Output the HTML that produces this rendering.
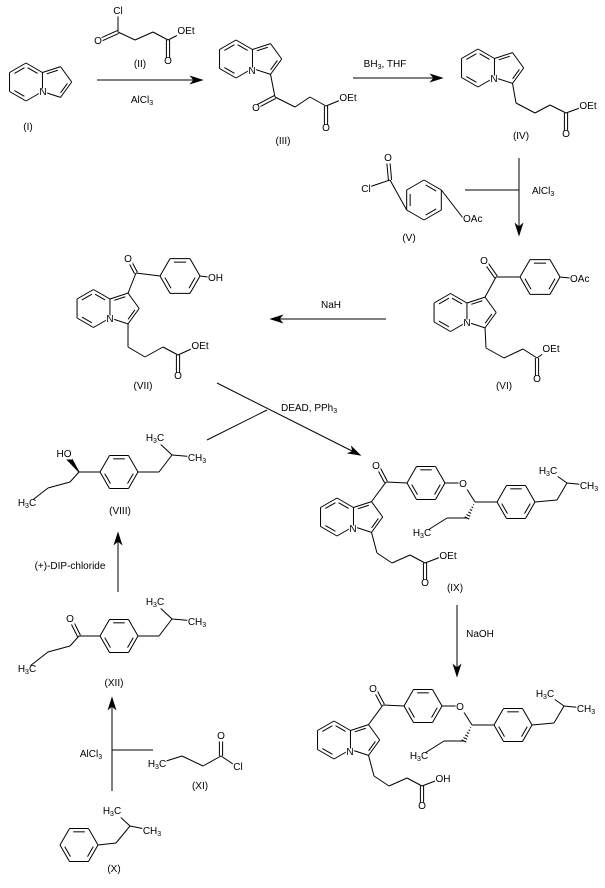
<!DOCTYPE html>
<html><head><meta charset="utf-8"><style>
html,body{margin:0;padding:0;background:#fff;}
svg{display:block;}
text{font-family:"Liberation Sans",Arial,sans-serif;font-size:10px;fill:#000;}
line,polyline,polygon{stroke:#000;stroke-width:1;fill:none;}
polygon.h{fill:#000;}
rect.m{fill:#fff;stroke:none;}
</style></head><body>
<svg id="s" width="605" height="888" viewBox="0 0 605 888" xmlns="http://www.w3.org/2000/svg">
<g id="b"></g>
<g id="m"></g>
<g id="t" text-anchor="middle">
<text x="118" y="14">Cl</text><text x="98" y="44">O</text><text x="168" y="64">O</text><text x="186" y="34">OEt</text>
<text x="140" y="67" class="n">(II)</text>
<text x="28" y="130" class="n">(I)</text><text x="43" y="95">N</text>
<text x="142" y="103" class="n">AlCl<tspan dy="2" font-size="7">3</tspan></text>
<text x="252" y="74">N</text><text x="256" y="111">O</text><text x="326" y="131">O</text><text x="348" y="101">OEt</text>
<text x="283" y="144" class="n">(III)</text>
<text x="385" y="67" class="n">BH<tspan dy="2" font-size="7">3</tspan><tspan dy="-2">, THF</tspan></text>
<text x="494" y="82">N</text><text x="566" y="137">O</text><text x="588" y="109">OEt</text>
<text x="521" y="139" class="n">(IV)</text>
<text x="366" y="192">Cl</text><text x="388" y="161">O</text><text x="463" y="222" text-anchor="start">OAc</text>
<text x="409" y="241" class="n">(V)</text>
<text x="532" y="194" class="n" text-anchor="start">AlCl<tspan dy="2" font-size="7">3</tspan></text>
<text x="484" y="264">O</text><text x="570" y="282" text-anchor="start">OAc</text>
<text x="467" y="326">N</text><text x="537" y="382">O</text><text x="551" y="352">OEt</text>
<text x="504" y="389" class="n">(VI)</text>
<text x="331" y="308" class="n">NaH</text>
<text x="128" y="262">O</text><text x="208" y="281" text-anchor="start">OH</text>
<text x="110" y="322">N</text><text x="178" y="379">O</text><text x="200" y="349">OEt</text>
<text x="143" y="389" class="n">(VII)</text>
<text x="281" y="411" class="n" text-anchor="start">DEAD, PPh<tspan dy="2" font-size="7">3</tspan></text>
<text x="64" y="457">HO</text><text x="155" y="441">H<tspan dy="2" font-size="7">3</tspan><tspan dy="-2">C</tspan></text>
<text x="197" y="461">CH<tspan dy="2" font-size="7">3</tspan></text>
<text x="27" y="506">H<tspan dy="2" font-size="7">3</tspan><tspan dy="-2">C</tspan></text>
<text x="120" y="514" class="n">(VIII)</text>
<text x="70" y="569" class="n">(+)-DIP-chloride</text>
<text x="70" y="622">O</text><text x="155" y="605">H<tspan dy="2" font-size="7">3</tspan><tspan dy="-2">C</tspan></text>
<text x="197" y="625">CH<tspan dy="2" font-size="7">3</tspan></text>
<text x="27" y="672">H<tspan dy="2" font-size="7">3</tspan><tspan dy="-2">C</tspan></text>
<text x="114" y="686" class="n">(XII)</text>
<text x="91" y="757" class="n">AlCl<tspan dy="2" font-size="7">3</tspan></text>
<text x="157" y="767">H<tspan dy="2" font-size="7">3</tspan><tspan dy="-2">C</tspan></text>
<text x="221" y="739">O</text><text x="238" y="770">Cl</text>
<text x="200" y="789" class="n">(XI)</text>
<text x="112" y="814">H<tspan dy="2" font-size="7">3</tspan><tspan dy="-2">C</tspan></text>
<text x="152" y="834">CH<tspan dy="2" font-size="7">3</tspan></text>
<text x="114" y="872" class="n">(X)</text>
<text x="376" y="469">O</text><text x="463" y="487">O</text><text x="353" y="532">N</text>
<text x="548" y="474">H<tspan dy="2" font-size="7">3</tspan><tspan dy="-2">C</tspan></text>
<text x="589" y="489">CH<tspan dy="2" font-size="7">3</tspan></text>
<text x="422" y="536">H<tspan dy="2" font-size="7">3</tspan><tspan dy="-2">C</tspan></text>
<text x="425" y="586">O</text><text x="448" y="559">OEt</text>
<text x="455" y="591" class="n">(IX)</text>
<text x="480" y="637" class="n">NaOH</text>
<text x="373" y="692">O</text><text x="460" y="710">O</text><text x="350" y="755">N</text>
<text x="545" y="697">H<tspan dy="2" font-size="7">3</tspan><tspan dy="-2">C</tspan></text>
<text x="586" y="712">CH<tspan dy="2" font-size="7">3</tspan></text>
<text x="419" y="759">H<tspan dy="2" font-size="7">3</tspan><tspan dy="-2">C</tspan></text>
<text x="422" y="809">O</text><text x="443" y="782">OH</text>
</g>
</svg>
<script>
var G=document.getElementById('b'),NS='http://www.w3.org/2000/svg';
function L(a,b,c,d){var e=document.createElementNS(NS,'line');e.setAttribute('x1',a);e.setAttribute('y1',b);e.setAttribute('x2',c);e.setAttribute('y2',d);G.appendChild(e);}
function P(pts){for(var i=0;i<pts.length-1;i++)L(pts[i][0],pts[i][1],pts[i+1][0],pts[i+1][1]);}
function D(a,b,c,d){var dx=c-a,dy=d-b,l=Math.hypot(dx,dy),nx=-dy/l*1.6,ny=dx/l*1.6;L(a+nx,b+ny,c+nx,d+ny);L(a-nx,b-ny,c-nx,d-ny);}
function inner(p,q,c){var f=0.8;var a=[c[0]+(p[0]-c[0])*f,c[1]+(p[1]-c[1])*f],b=[c[0]+(q[0]-c[0])*f,c[1]+(q[1]-c[1])*f];var m=0.12;L(a[0]+(b[0]-a[0])*m,a[1]+(b[1]-a[1])*m,b[0]-(b[0]-a[0])*m,b[1]-(b[1]-a[1])*m);}
function ring(cx,cy,r,flat){var v=[];for(var i=0;i<6;i++){var a=(flat?0:-90)+60*i;a*=Math.PI/180;v.push([cx+r*Math.cos(a),cy+r*Math.sin(a)]);}
 for(i=0;i<6;i++)L(v[i][0],v[i][1],v[(i+1)%6][0],v[(i+1)%6][1]);
 for(i=0;i<6;i+=2)inner(v[i],v[(i+1)%6],[cx,cy]);return v;}
function indol(cx,cy,r){var v=[];for(var i=0;i<6;i++){var a=(-90+60*i)*Math.PI/180;v.push([cx+r*Math.cos(a),cy+r*Math.sin(a)]);}
 for(i=0;i<6;i++)L(v[i][0],v[i][1],v[(i+1)%6][0],v[(i+1)%6][1]);
 var c=[cx,cy];inner(v[3],v[4],c);inner(v[5],v[0],c);
 var pc=[cx+0.866*r+0.688*r,cy],R=0.851*r;
 function pv(d){d*=Math.PI/180;return [pc[0]+R*Math.cos(d),pc[1]+R*Math.sin(d)];}
 var c1=pv(-72),c2=pv(0),c3=pv(72);
 P([v[1],c1,c2,c3,v[2]]);inner(v[1],c1,pc);inner(c2,c3,pc);inner(v[0],v[1],c);
 return {c1:c1,c3:c3};}
function A(a,b,c,d){L(a,b,c,d);var dx=c-a,dy=d-b,l=Math.hypot(dx,dy),ux=dx/l,uy=dy/l;
 var p=document.createElementNS(NS,'polygon');p.setAttribute('class','h');
 p.setAttribute('points',c+','+d+' '+(c-ux*11-uy*3.5)+','+(d-uy*11+ux*3.5)+' '+(c-ux*8)+','+(d-uy*8)+' '+(c-ux*11+uy*3.5)+','+(d-uy*11-ux*3.5));G.appendChild(p);}
function W(a,b,c,d){var dx=c-a,dy=d-b,l=Math.hypot(dx,dy),nx=-dy/l*2.5,ny=dx/l*2.5;var p=document.createElementNS(NS,'polygon');p.setAttribute('class','h');p.setAttribute('points',a+','+b+' '+(c+nx)+','+(d+ny)+' '+(c-nx)+','+(d-ny));G.appendChild(p);}
function H(a,b,c,d){for(var i=1;i<=6;i++){var t=i/6,x=a+(c-a)*t,y=b+(d-b)*t,dx=c-a,dy=d-b,l=Math.hypot(dx,dy),w=t*2.5;L(x-dy/l*w,y+dx/l*w,x+dy/l*w,y-dx/l*w);}}
indol(26,82,19);
P([[118,12],[118,32],[135,40],[153,32],[168,40],[186,31]]);D(118,32,98,41);D(168,40,168,60);
A(97,80,202,80);
var s=indol(236,59,19);P([s.c3,[275,97],[295,107],[310,97],[326,106],[348,97]]);D(275,97,256,107);D(326,106,326,127);
A(353,78,442,78);
s=indol(478,68,19);P([s.c3,[516,103],[535,113],[550,105],[566,113],[588,105]]);D(566,113,566,133);
var v=ring(424,200,20,false);P([[366,188],[390,180],v[4]]);D(390,180,388,158);L(v[1][0],v[1][1],463,218);
A(519,158,519,235);L(465,190,519,190);
s=indol(450.5,312.5,19);v=ring(540,277,20,true);P([s.c1,[496,277],v[3]]);D(496,277,484,260);L(v[0][0],v[0][1],570,278);
P([s.c3,[486,348],[504,358],[523,349],[537,358],[551,348]]);D(537,358,537,378);
A(386,319,271,319);
s=indol(93.5,308.5,19);v=ring(180,276,20,true);P([s.c1,[136,273],v[3]]);D(136,273,128,258);L(v[0][0],v[0][1],208,277);
P([s.c3,[128,347],[145,357],[163,347],[178,355],[200,345]]);D(178,355,178,375);
A(217,383,360,455);L(207,440,267,410);
function ibu(dy,ket){var v=ring(119,472+dy,19,true);L(79,472+dy,v[3][0],v[3][1]);
 P([v[0],[159,472+dy],[172,455+dy],[155,439+dy]]);L(172,455+dy,196,457+dy);
 P([[79,472+dy],[70,482+dy],[48,488+dy],[30,502+dy]]);
 if(ket)D(79,472+dy,70,618);else W(79,472+dy,68,457);}
ibu(0,false);ibu(164,true);
A(118,592,118,533);
A(112,791,112,698);L(112,750,153,750);
P([[163,762],[182,756],[203,766],[221,756],[236,766]]);D(221,756,221,737);
v=ring(79,845,19,true);P([v[0],[116,843],[130,826],[115,812]]);L(130,826,150,830);
A(457,605,457,676);
function ix(dx,dy){var s=indol(337+dx,517+dy,19);var v=ring(426+dx,483+dy,19,true);
 P([s.c1,[386+dx,482+dy],v[3]]);D(386+dx,482+dy,378+dx,467+dy);
 P([v[0],[463+dx,483+dy],[475+dx,502+dy]]);
 var w=ring(516+dx,502+dy,19,true);L(475+dx,502+dy,w[3][0],w[3][1]);
 P([w[0],[557+dx,500+dy],[567+dx,483+dy],[550+dx,471+dy]]);L(567+dx,483+dy,587+dx,485+dy);
 H(475+dx,502+dy,467+dx,518+dy);P([[467+dx,518+dy],[447+dx,518+dy],[428+dx,530+dy]]);
 P([s.c3,[377+dx,553+dy],[392+dx,563+dy],[410+dx,555+dy],[425+dx,563+dy],[446+dx,555+dy]]);D(425+dx,563+dy,425+dx,582+dy);}
ix(0,0);ix(-3,223);
var M=document.getElementById('m'),T=document.querySelectorAll('#t text');
for(var i=0;i<T.length;i++){if(T[i].getAttribute('class')=='n')continue;var bb=T[i].getBBox();
 var r=document.createElementNS(NS,'rect');r.setAttribute('class','m');r.setAttribute('x',bb.x-0.5);r.setAttribute('y',bb.y+1.5);r.setAttribute('width',bb.width+1);r.setAttribute('height',bb.height-2);M.appendChild(r);}
</script>
</body></html>
